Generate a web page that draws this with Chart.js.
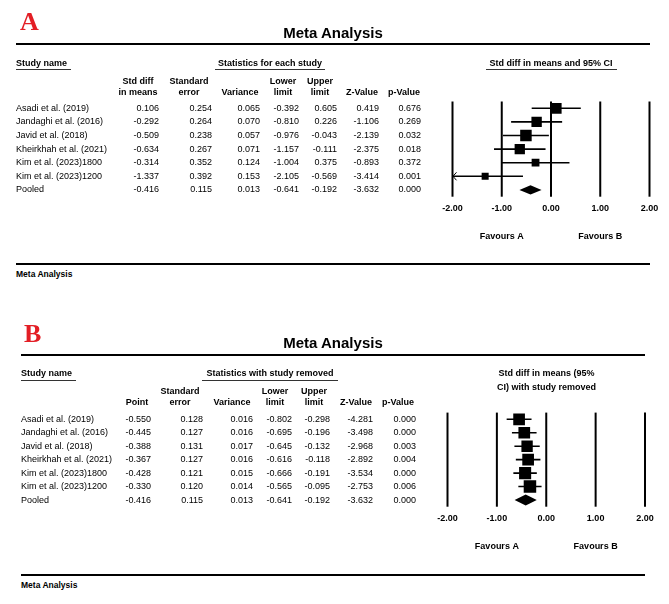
<!DOCTYPE html>
<html><head><meta charset="utf-8">
<script src="https://cdn.jsdelivr.net/npm/chart.js@4.4.1/dist/chart.umd.min.js"></script>
<style>
html,body{margin:0;padding:0;background:#fff;}
body{width:669px;height:604px;position:relative;overflow:hidden;font-family:"Liberation Sans",Arial,sans-serif;color:#000;}
.t{position:absolute;white-space:nowrap;font-size:9px;line-height:11px;height:11px;}
.b{font-weight:bold;}
.hr{position:absolute;background:#000;}
canvas{position:absolute;left:0;}
</style></head><body>
<canvas id="cA" width="669" height="250" style="top:0px;width:669px;height:250px"></canvas>
<canvas id="cB" width="669" height="250" style="top:310px;width:669px;height:250px"></canvas>
<script>
// ---------- data ----------
const studies = ['Asadi et al. (2019)', 'Jandaghi et al. (2016)', 'Javid et al. (2018)', 'Kheirkhah et al. (2021)', 'Kim et al. (2023)1800', 'Kim et al. (2023)1200'];
const rowNames = studies.concat(['Pooled']);
const xTicks = [-2, -1, 0, 1, 2];

// Panel A: statistics for each study (last entry = pooled)
const smdA = [0.106, -0.292, -0.509, -0.634, -0.314, -1.337, -0.416];
const seA = [0.254, 0.264, 0.238, 0.267, 0.352, 0.392, 0.115];
const varA = [0.065, 0.070, 0.057, 0.071, 0.124, 0.153, 0.013];
const loA = [-0.392, -0.810, -0.976, -1.157, -1.004, -2.105, -0.641];
const hiA = [0.605, 0.226, -0.043, -0.111, 0.375, -0.569, -0.192];
const zA = [0.419, -1.106, -2.139, -2.375, -0.893, -3.414, -3.632];
const pA = [0.676, 0.269, 0.032, 0.018, 0.372, 0.001, 0.000];

// Panel B: statistics with study removed (last entry = pooled)
const ptB = [-0.550, -0.445, -0.388, -0.367, -0.428, -0.330, -0.416];
const seB = [0.128, 0.127, 0.131, 0.127, 0.121, 0.120, 0.115];
const varB = [0.016, 0.016, 0.017, 0.016, 0.015, 0.014, 0.013];
const loB = [-0.802, -0.695, -0.645, -0.616, -0.666, -0.565, -0.641];
const hiB = [-0.298, -0.196, -0.132, -0.118, -0.191, -0.095, -0.192];
const zB = [-4.281, -3.498, -2.968, -2.892, -3.534, -2.753, -3.632];
const pB = [0.000, 0.000, 0.003, 0.004, 0.000, 0.006, 0.000];

// ---------- html text helpers ----------
function put(text, x, y, o) {
  o = o || {};
  const d = document.createElement('div');
  d.className = 't' + (o.bold ? ' b' : '');
  d.textContent = text;
  const fs = o.size || 9, lh = Math.round(fs * 1.25);
  d.style.fontSize = fs + 'px'; d.style.lineHeight = lh + 'px'; d.style.height = lh + 'px';
  if (o.family) d.style.fontFamily = o.family;
  if (o.color) d.style.color = o.color;
  d.style.top = (y - lh / 2) + 'px';
  const al = o.align || 'l';
  if (al === 'l') { d.style.left = x + 'px'; }
  else if (al === 'r') { d.style.left = (x - 300) + 'px'; d.style.width = '300px'; d.style.textAlign = 'right'; }
  else { d.style.left = (x - 300) + 'px'; d.style.width = '600px'; d.style.textAlign = 'center'; }
  document.body.appendChild(d);
}
function rule(x1, x2, y, h, color) {
  const d = document.createElement('div');
  d.className = 'hr';
  d.style.left = x1 + 'px'; d.style.width = (x2 - x1) + 'px';
  d.style.top = y + 'px'; d.style.height = h + 'px';
  d.style.background = color || '#000';
  document.body.appendChild(d);
}

function table(cfg) {
  const L = cfg.layout;
  put(cfg.letter, L.letterX, L.letterY, {size: 26, bold: true, family: '"Liberation Serif","Times New Roman",serif', color: '#e31e25'});
  put('Meta Analysis', 333, L.titleY, {size: 15, bold: true, align: 'c'});
  rule(L.x0, L.x1, L.thickTop, 2);
  rule(L.x0, L.x1, L.thickBot, 2);
  put('Meta Analysis', L.x0, L.footY, {size: 8.5, bold: true});
  // group headers
  put('Study name', L.x0, L.grpY, {bold: true});
  rule(L.x0, L.x0 + 55, L.grpY + 6, 1, '#333');
  put(cfg.groupTitle, L.grpCenter, L.grpY, {bold: true, align: 'c'});
  rule(L.grpLine[0], L.grpLine[1], L.grpY + 6, 1, '#333');
  cfg.plotTitle.forEach((s, k) => put(s, L.plotTitleX, L.plotTitleY + k * 14, {bold: true, align: 'c'}));
  if (L.plotLine) rule(L.plotLine[0], L.plotLine[1], L.grpY + 6, 1, '#333');
  // column headers
  cfg.headers.forEach((h, c) => {
    if (h.length === 2) {
      put(h[0], L.hdrX[c], L.hdrY - 11, {bold: true, align: 'c'});
      put(h[1], L.hdrX[c], L.hdrY, {bold: true, align: 'c'});
    } else {
      put(h[0], L.hdrX[c], L.hdrY, {bold: true, align: 'c'});
    }
  });
  // rows
  rowNames.forEach((n, i) => {
    const y = L.row0 + i * L.rowStep;
    put(n, L.x0, y);
    cfg.cols.forEach((arr, c) => put(arr[i].toFixed(3), L.colR[c], y, {align: 'r'}));
  });
}

table({
  letter: 'A', groupTitle: 'Statistics for each study',
  plotTitle: ['Std diff in means and 95% CI'],
  headers: [['Std diff', 'in means'], ['Standard', 'error'], ['Variance'], ['Lower', 'limit'], ['Upper', 'limit'], ['Z-Value'], ['p-Value']],
  cols: [smdA, seA, varA, loA, hiA, zA, pA],
  layout: {letterX: 20, letterY: 21, titleY: 32, x0: 16, x1: 650, thickTop: 43, thickBot: 263, footY: 274,
    grpY: 63, grpCenter: 270, grpLine: [215, 325], plotTitleX: 551, plotTitleY: 63, plotLine: [486, 617],
    hdrX: [138, 189, 240, 283, 320, 362, 404], hdrY: 92,
    colR: [159, 212, 260, 299, 337, 379, 421], row0: 108.3, rowStep: 13.6}
});
table({
  letter: 'B', groupTitle: 'Statistics with study removed',
  plotTitle: ['Std diff in means (95%', 'CI) with study removed'],
  headers: [['Point'], ['Standard', 'error'], ['Variance'], ['Lower', 'limit'], ['Upper', 'limit'], ['Z-Value'], ['p-Value']],
  cols: [ptB, seB, varB, loB, hiB, zB, pB],
  layout: {letterX: 24, letterY: 333, titleY: 342, x0: 21, x1: 645, thickTop: 354, thickBot: 574, footY: 585,
    grpY: 373.7, grpCenter: 270, grpLine: [202, 338], plotTitleX: 546.5, plotTitleY: 373, plotLine: null,
    hdrX: [137, 180, 232, 275, 314, 356, 398], hdrY: 402,
    colR: [151, 203, 253, 292, 330, 373, 416], row0: 419.3, rowStep: 13.45}
});

// ---------- forest plots (Chart.js) ----------
const FONT = '"Liberation Sans", Arial, sans-serif';
const forestPlugin = {
  id: 'forest',
  beforeDatasetsDraw(chart) {
    const {ctx, chartArea: a, scales: {x}} = chart;
    ctx.save();
    ctx.strokeStyle = '#000'; ctx.lineWidth = 2;
    xTicks.forEach(v => {
      const px = x.getPixelForValue(v);
      ctx.beginPath(); ctx.moveTo(px, a.top); ctx.lineTo(px, a.bottom); ctx.stroke();
    });
    ctx.restore();
  },
  afterDatasetsDraw(chart) {
    const o = chart.options.plugins.forest;
    const {ctx, chartArea: a, scales: {x, y}} = chart;
    ctx.save();
    // arrows for truncated CIs
    ctx.strokeStyle = '#000'; ctx.lineWidth = 1;
    o.lo.forEach((lo, i) => {
      if (i === o.lo.length - 1) return;
      if (lo < x.min) {
        const px = x.getPixelForValue(x.min), py = y.getPixelForValue(i);
        ctx.beginPath(); ctx.moveTo(px + 4, py - 4); ctx.lineTo(px + 0.5, py); ctx.lineTo(px + 4, py + 4); ctx.stroke();
      }
    });
    // pooled diamond
    const k = o.lo.length - 1;
    const py = y.getPixelForValue(k);
    ctx.fillStyle = '#000';
    ctx.beginPath();
    ctx.moveTo(x.getPixelForValue(o.lo[k]), py);
    ctx.lineTo(x.getPixelForValue(o.est[k]), py - o.dia);
    ctx.lineTo(x.getPixelForValue(o.hi[k]), py);
    ctx.lineTo(x.getPixelForValue(o.est[k]), py + o.dia);
    ctx.closePath(); ctx.fill();
    // favours labels
    ctx.font = 'bold 9px ' + FONT;
    ctx.textAlign = 'center'; ctx.textBaseline = 'middle';
    ctx.fillText('Favours A', x.getPixelForValue(-1), a.bottom + o.favY);
    ctx.fillText('Favours B', x.getPixelForValue(1), a.bottom + o.favY);
    ctx.restore();
  }
};

function forest(id, lo, est, hi, variance, pad, boxMax, dia, favY) {
  const n = est.length - 1;
  const w = variance.slice(0, n).map(v => 1 / v);
  const wMax = Math.max(...w);
  const datasets = [];
  for (let i = 0; i < n; i++) {
    datasets.push({type: 'scatter', showLine: true, data: [{x: lo[i], y: i}, {x: hi[i], y: i}],
      borderColor: '#000', borderWidth: 1.6, pointRadius: 0, order: 2});
  }
  datasets.push({type: 'scatter', data: est.slice(0, n).map((v, i) => ({x: v, y: i})),
    pointStyle: 'rect', backgroundColor: '#000', borderWidth: 0,
    pointRadius: w.map(v => boxMax * Math.sqrt(v / wMax) / 2 / Math.SQRT1_2), order: 1});
  return new Chart(document.getElementById(id), {
    type: 'scatter',
    data: {datasets},
    options: {
      responsive: false, animation: false, events: [],
      layout: {padding: pad},
      plugins: {legend: {display: false}, tooltip: {enabled: false},
        forest: {lo, est, hi, dia, favY}},
      scales: {
        x: {type: 'linear', min: -2, max: 2,
          afterBuildTicks: s => { s.ticks = xTicks.map(v => ({value: v})); },
          afterFit: s => { s.height = 24; },
          grid: {display: false, drawTicks: false}, border: {display: false},
          ticks: {padding: 6, color: '#000', font: {family: FONT, size: 9, weight: 'bold'},
            callback: v => Number(v).toFixed(2), maxRotation: 0, autoSkip: false}},
        y: {type: 'linear', min: -0.5, max: rowNames.length - 0.5, reverse: true, display: false}
      }
    },
    plugins: [forestPlugin]
  });
}

forest('cA', loA, smdA, hiA, varA, {left: 452.5, right: 19.5, top: 101.5, bottom: 29.3}, 11.5, 4.7, 39.5);
forest('cB', loB, ptB, hiB, varB, {left: 447.5, right: 24, top: 102.6, bottom: 29.3}, 12.5, 5.5, 40.3);
</script>
</body></html>
